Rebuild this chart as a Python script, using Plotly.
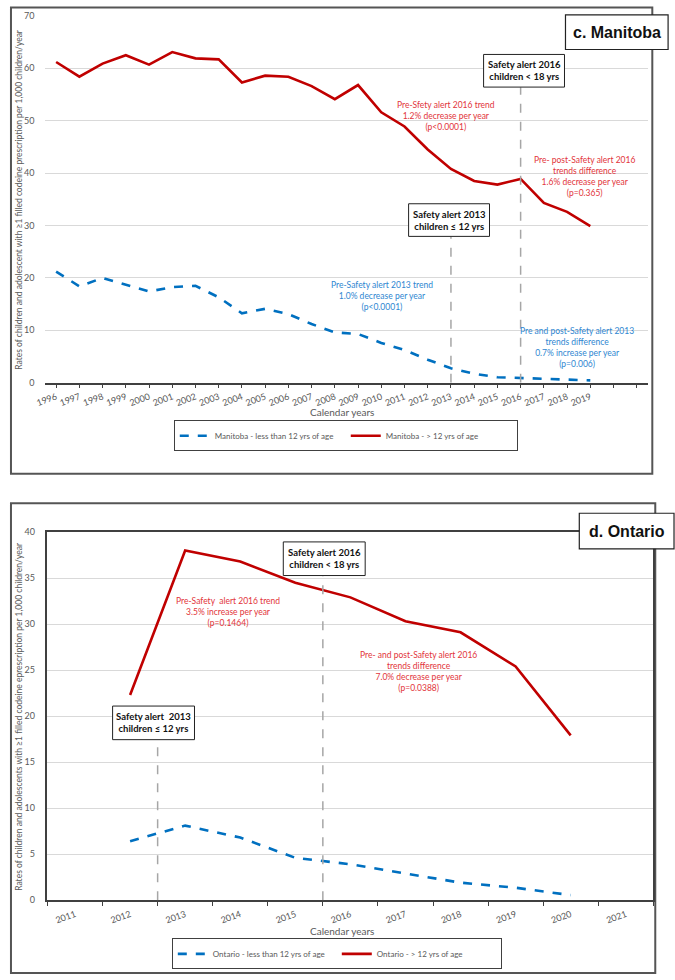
import plotly.graph_objects as go

# ---------------- data ----------------
mb_years = list(range(1996, 2020))
mb_under12 = [21.2, 18.4, 20.0, 18.7, 17.4, 18.25, 18.5, 16.3, 13.25, 14.1, 13.1, 11.2,
              9.6, 9.3, 7.6, 6.25, 4.4, 2.75, 1.7, 1.05, 0.9, 0.7, 0.55, 0.45]
mb_over12 = [61.2, 58.4, 60.9, 62.5, 60.7, 63.1, 61.9, 61.7, 57.3, 58.6, 58.4, 56.6,
             54.1, 56.8, 51.6, 48.9, 44.5, 40.8, 38.5, 37.8, 38.9, 34.3, 32.6, 29.9]
mb_tickvals = list(range(1996, 2022))
mb_ticktext = [str(y) for y in range(1996, 2020)] + ["", ""]

on_years = list(range(2012, 2021))
on_under12 = [6.4, 8.1, 6.8, 4.6, 3.9, 2.9, 1.9, 1.35, 0.55]
on_over12 = [22.3, 38.0, 36.8, 34.5, 32.9, 30.3, 29.1, 25.4, 17.9]
on_tickvals = list(range(2011, 2022))
on_ticktext = [str(y) for y in on_tickvals]

mb_alerts = [2013, 2016]
on_alerts = [2012.5, 2015.5]

# ---------------- styling ----------------
W, H = 675, 980
def px(x):
    return x / W
def py(y):
    return 1 - y / H

FONT = "Lato, 'Liberation Sans', sans-serif"
GREY_TXT = "#595959"
GRID = "#d9d9d9"
AXIS = "#404040"
RED_LINE = "#c00000"
BLUE_LINE = "#0070c0"
RED_TXT = "#e2343a"
BLUE_TXT = "#2e86d1"

fig = go.Figure()

fig.add_trace(go.Scatter(x=mb_years, y=mb_under12, mode="lines",
                         name="Manitoba - less than 12 yrs of age",
                         line=dict(color=BLUE_LINE, width=2.6, dash="dash"),
                         xaxis="x", yaxis="y", legend="legend"))
fig.add_trace(go.Scatter(x=mb_years, y=mb_over12, mode="lines",
                         name="Manitoba - > 12 yrs of age",
                         line=dict(color=RED_LINE, width=2.6),
                         xaxis="x", yaxis="y", legend="legend"))
fig.add_trace(go.Scatter(x=on_years, y=on_under12, mode="lines",
                         name="Ontario - less than 12 yrs of age",
                         line=dict(color=BLUE_LINE, width=2.6, dash="dash"),
                         xaxis="x2", yaxis="y2", legend="legend2"))
fig.add_trace(go.Scatter(x=on_years, y=on_over12, mode="lines",
                         name="Ontario - > 12 yrs of age",
                         line=dict(color=RED_LINE, width=2.6),
                         xaxis="x2", yaxis="y2", legend="legend2"))

tickfont = dict(family=FONT, size=9, color=GREY_TXT)

fig.update_layout(
    width=W, height=H, margin=dict(l=0, r=0, t=0, b=0),
    paper_bgcolor="white", plot_bgcolor="white",
    font=dict(family=FONT, color=GREY_TXT),
    xaxis=dict(domain=[px(36), px(648)], range=[1995.5, 2021.5], anchor="y",
               tickmode="array", tickvals=mb_tickvals, ticktext=mb_ticktext,
               tickangle=-20, tickfont=tickfont, ticks="outside", ticklen=4,
               tickcolor=AXIS, showline=True, linecolor=AXIS, linewidth=1.5,
               showgrid=False, zeroline=False),
    yaxis=dict(domain=[py(381), py(10)], range=[0, 70], anchor="x",
               tickmode="array", tickvals=list(range(0, 80, 10)),
               tickfont=tickfont, ticks="", ticklabelstandoff=9,
               showgrid=True, gridcolor=GRID, gridwidth=1, zeroline=False,
               showline=False),
    xaxis2=dict(domain=[px(39), px(653)], range=[2010.5, 2021.5], anchor="y2",
                tickmode="array", tickvals=on_tickvals, ticktext=on_ticktext,
                tickangle=-20, tickfont=tickfont, ticks="", ticklabelstandoff=4,
                minor=dict(tickmode="linear", tick0=2010.5, dtick=1, ticks="outside",
                           ticklen=4, tickcolor=AXIS, showgrid=False),
                showline=True, linecolor=AXIS, linewidth=1.5, mirror=True,
                showgrid=False, zeroline=False),
    yaxis2=dict(domain=[py(904.3), py(532)], range=[0, 40], anchor="x2",
                tickmode="array", tickvals=list(range(0, 45, 5)),
                tickfont=tickfont, ticks="", ticklabelstandoff=9,
                showgrid=True, gridcolor=GRID, gridwidth=1, zeroline=False,
                showline=True, linecolor=AXIS, linewidth=1.5, mirror=True),
    legend=dict(orientation="h", x=px(167), y=py(419), xanchor="left", yanchor="top",
                bordercolor=AXIS, borderwidth=1, bgcolor="white",
                font=dict(family=FONT, size=8, color=GREY_TXT),
                entrywidth=126, entrywidthmode="pixels"),
    legend2=dict(orientation="h", x=px(165), y=py(943), xanchor="left", yanchor="top",
                 bordercolor=AXIS, borderwidth=1, bgcolor="white",
                 font=dict(family=FONT, size=8, color=GREY_TXT),
                 entrywidth=119, entrywidthmode="pixels"),
)

shapes = []
# outer panel borders
shapes.append(dict(type="rect", xref="paper", yref="paper", x0=px(2), x1=px(652),
                   y0=py(473), y1=py(1.5), line=dict(color="#555555", width=2),
                   fillcolor="rgba(0,0,0,0)", layer="below"))
shapes.append(dict(type="rect", xref="paper", yref="paper", x0=px(2), x1=px(655),
                   y0=py(978), y1=py(503), line=dict(color="#555555", width=2),
                   fillcolor="rgba(0,0,0,0)", layer="below"))

# alert dashed lines (data coordinates)
mb_box_bottoms = [27.9, 56.4]
for xa, yb in zip(mb_alerts, mb_box_bottoms):
    shapes.append(dict(type="line", xref="x", yref="y", x0=xa, x1=xa, y0=0, y1=yb,
                       line=dict(color="#a6a6a6", width=1.5, dash="dash")))
on_box_bottoms = [17.4, 35.3]
for xa, yb in zip(on_alerts, on_box_bottoms):
    shapes.append(dict(type="line", xref="x2", yref="y2", x0=xa, x1=xa, y0=0, y1=yb,
                       line=dict(color="#a6a6a6", width=1.5, dash="dash")))

def box(x0, y0, x1, y1, lw=1):
    return dict(type="rect", xref="paper", yref="paper", x0=px(x0), x1=px(x1),
                y0=py(y1), y1=py(y0), line=dict(color="#222222", width=lw),
                fillcolor="white")

shapes += [box(564, 9, 668, 44, 1.2), box(481, 49, 563, 82), box(405, 200, 487, 233),
           box(578, 513, 674, 549, 1.2), box(105, 708, 188, 742), box(278, 542, 361, 576)]
fig.update_layout(shapes=shapes)

ann = []
def text(x, y, t, size=8.5, color=GREY_TXT, bold=False, family=FONT, angle=0):
    ann.append(dict(xref="paper", yref="paper", x=px(x), y=py(y), text=t, showarrow=False,
                    xanchor="center", yanchor="middle", align="center", textangle=angle,
                    font=dict(family=family, size=size, color=color,
                              weight="bold" if bold else "normal")))

text(616, 26.5, "c. Manitoba", size=16, color="#111111", bold=True, family="'Liberation Sans', Arial")
text(626, 531, "d. Ontario", size=16, color="#111111", bold=True, family="'Liberation Sans', Arial")
text(522, 65.5, "Safety alert 2016<br>children < 18 yrs", size=9.5, color="#111111", bold=True)
text(446, 216.5, "Safety alert 2013<br>children ≤ 12 yrs", size=9.5, color="#111111", bold=True)
text(146.5, 725, "Safety alert  2013<br>children ≤ 12 yrs", size=9.5, color="#111111", bold=True)
text(319.5, 559, "Safety alert 2016<br>children < 18 yrs", size=9.5, color="#111111", bold=True)

text(443, 111, "Pre-Sfety alert 2016 trend<br>1.2% decrease per year<br>(p<0.0001)", color=RED_TXT)
text(583, 172, "Pre- post-Safety alert 2016<br>trends difference<br>1.6% decrease per year<br>(p=0.365)", color=RED_TXT)
text(378, 293, "Pre-Safety alert 2013 trend<br>1.0% decrease per year<br>(p<0.0001)", color=BLUE_TXT)
text(576, 345, "Pre and post-Safety alert 2013<br>trends difference<br>0.7% increase per year<br>(p=0.006)", color=BLUE_TXT)
text(222, 613, "Pre-Safety  alert 2016 trend<br>3.5% increase per year<br>(p=0.1464)", color=RED_TXT)
text(415, 673, "Pre- and post-Safety alert 2016<br>trends difference<br>7.0% decrease per year<br>(p=0.0388)", color=RED_TXT)

text(338, 411, "Calendar years", size=10)
text(338, 935, "Calendar years", size=10)
text(10, 195, "Rates of children and adolescent with ≥1 filled codeine prescription per 1,000 children/year",
     size=8.5, angle=-90)
text(10, 718, "Rates of children and adolescents with ≥1 filled codeine eprescription per 1,000 children/year",
     size=8.5, angle=-90)
fig.update_layout(annotations=ann)

fig.write_html("out.html", config={"displayModeBar": False},
               post_script="document.body.style.margin='0';")
